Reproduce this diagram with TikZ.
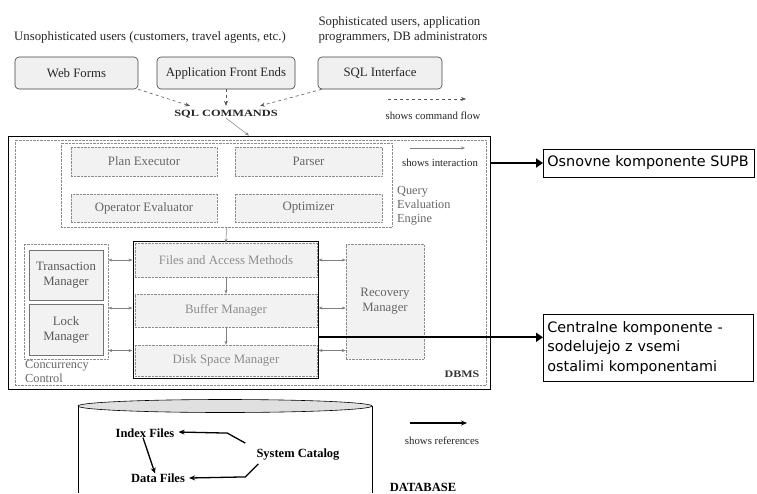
\documentclass[tikz,border=0pt]{standalone}
\usepackage{fontspec}
\setmainfont{Liberation Serif}
\newfontfamily\annfont{DejaVu Sans}
\usetikzlibrary{arrows.meta,calc}
\newcommand\fsz[2]{\fontsize{#1}{#2}\selectfont}
\begin{document}
\begin{tikzpicture}[x=1pt,y=-1pt,
  ubox/.style={draw=black!75, fill=black!6, rounded corners=4pt, line width=0.6pt, inner sep=0pt, font=\fsz{12.8}{15}, text=black!85},
  gbox/.style={draw=black!45, densely dotted, fill=black!5, inner sep=0pt, text=black!60, font=\fsz{12.8}{15}},
  lbox/.style={draw=black!55, fill=black!5, inner sep=0pt, text=black!65, font=\fsz{12.8}{15}, align=center},
  gframe/.style={draw=black!45, densely dotted, inner sep=0pt},
  lbl/.style={font=\fsz{12.8}{15}, text=black!85, inner sep=0pt},
  glbl/.style={font=\fsz{12.3}{14}, text=black!60, inner sep=0pt, align=left},
  small/.style={font=\fsz{10.8}{12}, text=black!85, inner sep=0pt},
  flow/.style={draw=black!65, dashed, line width=0.6pt, -{Stealth[length=5pt,width=4pt]}},
  thin/.style={draw=black!50, line width=0.5pt, -{Stealth[length=4pt,width=3pt]}},
  inter/.style={draw=black!50, line width=0.5pt, {Stealth[length=4pt,width=3pt]}-{Stealth[length=4pt,width=3pt]}},
  ref/.style={line width=1.3pt, -{Stealth[length=6pt,width=5pt]}},
  ann/.style={draw, line width=0.6pt, font=\annfont\fsz{14.4}{19.5}, align=left, inner sep=4pt, anchor=north west},
  annarrow/.style={line width=2.2pt, -{Triangle[length=7pt,width=9pt]}}
]
\useasboundingbox (0,0) rectangle (757,493);

% --- users
\node[lbl] (unsoph) at (150,37) {Unsophisticated users (customers, travel agents, etc.)};
\node[lbl, align=left] (soph) at (403,30) {Sophisticated users, application\\programmers, DB administrators};

\node[ubox, minimum width=123, minimum height=32] (web) at (76.5,73) {Web Forms};
\node[ubox, minimum width=138, minimum height=32] (afe) at (226,73) {Application Front Ends};
\node[ubox, minimum width=124, minimum height=32] (sqli) at (380,73) {SQL Interface};

\node[inner sep=0pt, font=\bfseries\fsz{9.5}{11}, text=black!85] (sqlc) at (226,114) {\scalebox{1.3}[1]{SQL COMMANDS}};

\draw[flow] (web.south east) -- ([shift={(-36,-4)}]sqlc.north);
\draw[flow] (afe.south) -- ([yshift=4pt]sqlc.north);
\draw[flow] ([xshift=4pt]sqli.south west) -- ([shift={(34,-4)}]sqlc.north);

\coordinate (cf1) at (388,99);
\coordinate (cf2) at (466,99);
\draw[flow] (cf1) -- (cf2);
\node[small] (cflbl) at (433,116) {shows command flow};

% --- DBMS
\node[draw, line width=0.9pt, minimum width=482, minimum height=253, inner sep=0pt] (dbms) at (249,262.5) {};
\node[gframe, minimum width=471, minimum height=245] (dbin) at (250.5,262.5) {};
\draw[thin] (sqlc.south) -- (dbms.north);

\node[gframe, minimum width=331, minimum height=84] (qee) at (226.5,185) {};
\node[gbox, minimum width=146, minimum height=29] (plan) at (144,161.5) {Plan Executor};
\node[gbox, minimum width=147, minimum height=29] (parser) at (308.5,161.5) {Parser};
\node[gbox, minimum width=146, minimum height=28] (opev) at (144,208) {Operator Evaluator};
\node[gbox, minimum width=147, minimum height=28] (optim) at (308.5,208) {Optimizer};
\node[glbl, anchor=north west] (qeel) at (397,186) {Query\\Evaluation\\Engine};

\coordinate (si1) at (410,148);
\coordinate (si2) at (465,148);
\draw[thin] (si1) -- (si2);
\node[small] (silbl) at (440,163) {shows interaction};

\node[gbox, minimum width=182, minimum height=34, text=black!45] (files) at (226,260) {Files and Access Methods};
\node[gbox, minimum width=182, minimum height=33, text=black!45] (buffer) at (226,310.5) {Buffer Manager};
\node[gbox, minimum width=182, minimum height=31, text=black!45] (disk) at (226,360.5) {Disk Space Manager};
\node[draw, line width=1pt, minimum width=185, minimum height=137, inner sep=0pt] (central) at (225.5,309.5) {};

\node[gframe, minimum width=84, minimum height=115] (cc) at (66,301.5) {};
\node[lbox, minimum width=74, minimum height=50] (tm) at (66,275) {Transaction\\Manager};
\node[lbox, minimum width=74, minimum height=51] (lm) at (66,329.5) {Lock\\Manager};
\node[glbl, anchor=north west] (ccl) at (25,360) {Concurrency\\Control};

\node[gbox, minimum width=78, minimum height=115, align=center] (rec) at (385,301.5) {Recovery\\Manager};

\draw[thin] (qee.south) -- (files.north);
\draw[thin] (files.south) -- (buffer.north);
\draw[thin] (buffer.south) -- (disk.north);

\draw[inter] (cc.east |- files.west) -- (central.west |- files.west);
\draw[inter] ([yshift=2.5pt]cc.east |- buffer.west) -- ([yshift=2.5pt]central.west |- buffer.west);
\draw[inter] ([yshift=10pt]cc.east |- disk.west) -- ([yshift=10pt]central.west |- disk.west);
\draw[inter] (central.east |- files.east) -- (rec.west |- files.east);
\draw[inter] ([yshift=2.5pt]central.east |- buffer.east) -- ([yshift=2.5pt]rec.west |- buffer.east);
\draw[inter] ([yshift=10pt]central.east |- disk.east) -- ([yshift=10pt]rec.west |- disk.east);

\node[inner sep=0pt, font=\bfseries\fsz{10}{12}, text=black!80] (dbmsl) at (462,374) {\scalebox{1.2}[1]{DBMS}};

% --- database
\draw[fill=black!12, line width=0.6pt] (225,406) ellipse [x radius=147pt, y radius=6.5pt];
\draw[line width=0.6pt] (78,406) -- (78,493);
\draw[line width=0.6pt] (372,406) -- (372,493);

\node[inner sep=0pt, font=\bfseries\fsz{12.5}{15}] (idx) at (145,433) {Index Files};
\node[inner sep=0pt, font=\bfseries\fsz{12.5}{15}] (dat) at (158,478) {Data Files};
\node[inner sep=0pt, font=\bfseries\fsz{12.5}{15}] (cat) at (298,455) {System Catalog};

\draw[ref] ([shift={(-11,-6)}]cat.north west) -- ++(-18,-10) -- ([xshift=4pt]idx.east |- 0,432);
\draw[ref] ([shift={(2,3)}]cat.south west) -- ++(-13,13) -- ([xshift=4pt]dat.east |- 0,478);
\draw[ref] ([xshift=-2pt]idx.south) -- ([xshift=-3pt]dat.north);

\coordinate (sr1) at (410,423);
\coordinate (sr2) at (467,423);
\draw[ref] (sr1) -- (sr2);
\node[small] (srlbl) at (442,441) {shows references};
\node[inner sep=0pt, font=\bfseries\fsz{12.5}{15}] (dbl) at (423,487) {DATABASE};

% --- annotations
\node[ann, text width=203pt, minimum height=28pt, anchor=west] (osn) at (543,163) {Osnovne komponente SUPB};
\node[ann, text width=202pt, minimum height=67pt] (cen) at (543,314) {Centralne komponente -\\sodelujejo z vsemi\\ostalimi komponentami};

\draw[annarrow] (dbms.east |- osn.west) -- (osn.west);
\coordinate (cenin) at ([yshift=10.5pt]cen.west);
\draw[annarrow] (central.east |- cenin) -- (cenin);
\end{tikzpicture}
\end{document}
